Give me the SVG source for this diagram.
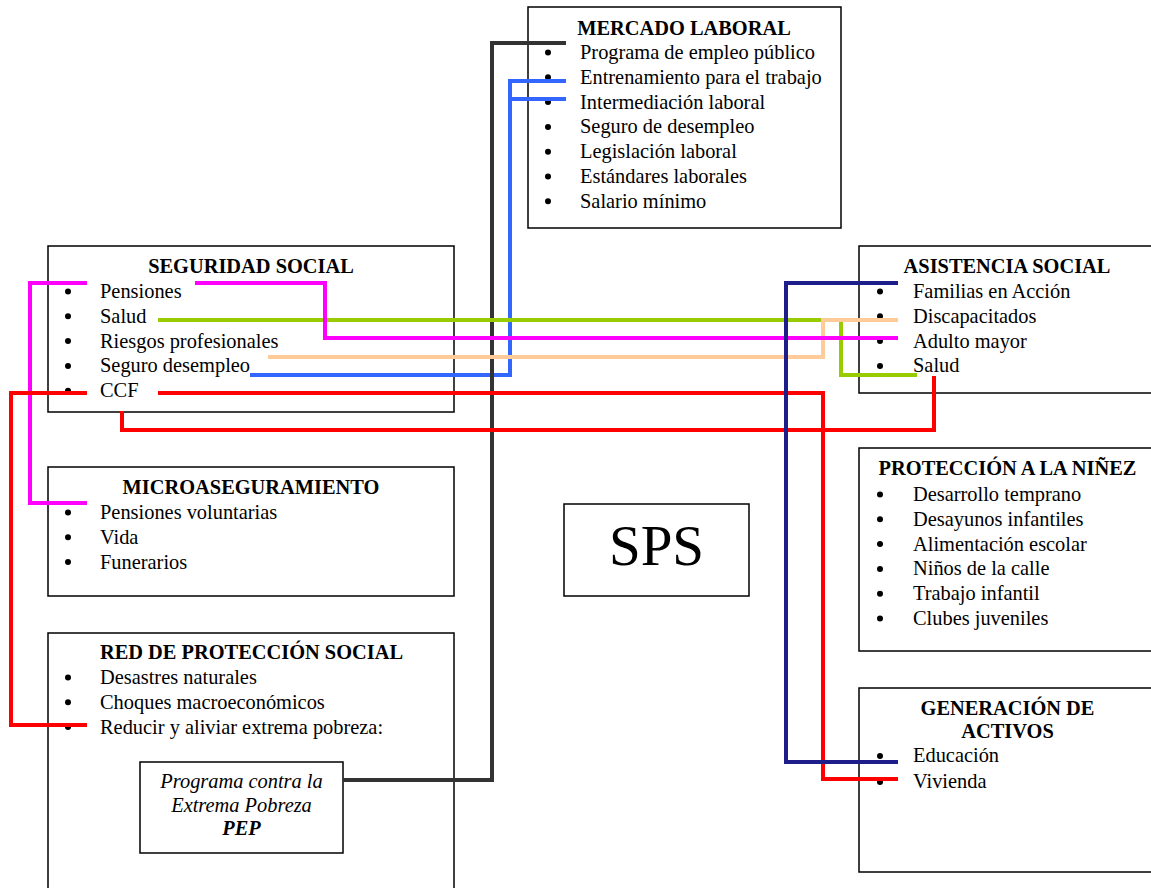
<svg xmlns="http://www.w3.org/2000/svg" width="1151" height="888" viewBox="0 0 1151 888">
<style>
.box{fill:#fff;stroke:#000;stroke-width:1.5}
.t{font-family:"Liberation Serif","Times New Roman",serif;font-size:20.4px;fill:#000}
.h{font-weight:bold;text-anchor:middle}
.c{text-anchor:middle}
.i{font-style:italic}
.b{fill:#000}
.ln{fill:none;stroke-width:4;stroke-linejoin:miter;stroke-linecap:butt}
</style>
<rect width="1151" height="888" fill="#fff"/>
<g id="mercado">
<rect class="box" x="528" y="7" width="313" height="221"/>
<text class="t h" x="684" y="35">MERCADO LABORAL</text>
<g class="b"><circle cx="548" cy="52.5" r="3"/><circle cx="548" cy="77.3" r="3"/><circle cx="548" cy="102.1" r="3"/><circle cx="548" cy="126.9" r="3"/><circle cx="548" cy="151.7" r="3"/><circle cx="548" cy="176.5" r="3"/><circle cx="548" cy="201.3" r="3"/></g>
<text class="t" x="580" y="59">Programa de empleo público</text>
<text class="t" x="580" y="83.8">Entrenamiento para el trabajo</text>
<text class="t" x="580" y="108.6">Intermediación laboral</text>
<text class="t" x="580" y="133.4">Seguro de desempleo</text>
<text class="t" x="580" y="158.2">Legislación laboral</text>
<text class="t" x="580" y="183">Estándares laborales</text>
<text class="t" x="580" y="207.8">Salario mínimo</text>
</g>
<g id="seguridad">
<rect class="box" x="48" y="246" width="406" height="166"/>
<text class="t h" x="251" y="273">SEGURIDAD SOCIAL</text>
<g class="b"><circle cx="68" cy="291.5" r="3"/><circle cx="68" cy="316.3" r="3"/><circle cx="68" cy="341.1" r="3"/><circle cx="68" cy="365.9" r="3"/><circle cx="68" cy="390.7" r="3"/></g>
<text class="t" x="100" y="298">Pensiones</text>
<text class="t" x="100" y="322.8">Salud</text>
<text class="t" x="100" y="347.6">Riesgos profesionales</text>
<text class="t" x="100" y="372.4">Seguro desempleo</text>
<text class="t" x="100" y="397.2">CCF</text>
</g>
<g id="asistencia">
<rect class="box" x="859" y="246" width="300" height="147"/>
<text class="t h" x="1007" y="273">ASISTENCIA SOCIAL</text>
<g class="b"><circle cx="880" cy="291.5" r="3"/><circle cx="880" cy="316.3" r="3"/><circle cx="880" cy="341.1" r="3"/><circle cx="880" cy="365.9" r="3"/></g>
<text class="t" x="913" y="298">Familias en Acción</text>
<text class="t" x="913" y="322.8">Discapacitados</text>
<text class="t" x="913" y="347.6">Adulto mayor</text>
<text class="t" x="913" y="372.4">Salud</text>
</g>
<g id="micro">
<rect class="box" x="48" y="467" width="406" height="129"/>
<text class="t h" x="251" y="494">MICROASEGURAMIENTO</text>
<g class="b"><circle cx="68" cy="512.5" r="3"/><circle cx="68" cy="537.3" r="3"/><circle cx="68" cy="562.1" r="3"/></g>
<text class="t" x="100" y="519">Pensiones voluntarias</text>
<text class="t" x="100" y="543.8">Vida</text>
<text class="t" x="100" y="568.6">Funerarios</text>
</g>
<g id="red">
<rect class="box" x="48" y="633" width="406" height="270"/>
<text class="t h" x="251.5" y="659">RED DE PROTECCIÓN SOCIAL</text>
<g class="b"><circle cx="68" cy="677.5" r="3"/><circle cx="68" cy="702.3" r="3"/><circle cx="68" cy="727.1" r="3"/></g>
<text class="t" x="100" y="684">Desastres naturales</text>
<text class="t" x="100" y="708.8">Choques macroeconómicos</text>
<text class="t" x="100" y="733.6">Reducir y aliviar extrema pobreza:</text>
</g>
<g id="pep">
<rect class="box" x="140" y="762" width="203" height="91"/>
<text class="t c i" x="241.5" y="788">Programa contra la</text>
<text class="t c i" x="241.5" y="812">Extrema Pobreza</text>
<text class="t c i" x="241.5" y="835" font-weight="bold">PEP</text>
</g>
<g id="sps">
<rect class="box" x="564" y="504" width="185" height="92"/>
<text class="t c" x="656.5" y="565" style="font-size:57px">SPS</text>
</g>
<g id="ninez">
<rect class="box" x="859" y="448" width="300" height="203"/>
<text class="t h" x="1007.5" y="475">PROTECCIÓN A LA NIÑEZ</text>
<g class="b"><circle cx="880" cy="494.5" r="3"/><circle cx="880" cy="519.3" r="3"/><circle cx="880" cy="544.1" r="3"/><circle cx="880" cy="568.9" r="3"/><circle cx="880" cy="593.7" r="3"/><circle cx="880" cy="618.5" r="3"/></g>
<text class="t" x="913" y="501">Desarrollo temprano</text>
<text class="t" x="913" y="525.8">Desayunos infantiles</text>
<text class="t" x="913" y="550.6">Alimentación escolar</text>
<text class="t" x="913" y="575.4">Niños de la calle</text>
<text class="t" x="913" y="600.2">Trabajo infantil</text>
<text class="t" x="913" y="625">Clubes juveniles</text>
</g>
<g id="activos">
<rect class="box" x="859" y="688" width="300" height="184"/>
<text class="t h" x="1007.5" y="715">GENERACIÓN DE</text>
<text class="t h" x="1007.5" y="738">ACTIVOS</text>
<g class="b"><circle cx="880" cy="756" r="3"/><circle cx="880" cy="782" r="3"/></g>
<text class="t" x="913" y="762">Educación</text>
<text class="t" x="913" y="788">Vivienda</text>
</g>
<g id="connectors">
<path class="ln" stroke="#3366FF" d="M566 81H510V375H250M566 99H510"/>
<path class="ln" stroke="#333333" d="M566 43H492V780H343"/>
<path class="ln" stroke="#99CC00" d="M158 320H841V375H917"/>
<path class="ln" stroke="#FFCC99" d="M268 357H823V320H898"/>
<path class="ln" stroke="#FF00FF" d="M87 283H30V503H87M195 283H325V338H898"/>
<path class="ln" stroke="#FF0000" d="M87 393H11V725H87M158 393H823V779H898M122 411V430H934V376"/>
<path class="ln" stroke="#1E1E8A" d="M898 283H786V762H898"/>
</g>
</svg>
